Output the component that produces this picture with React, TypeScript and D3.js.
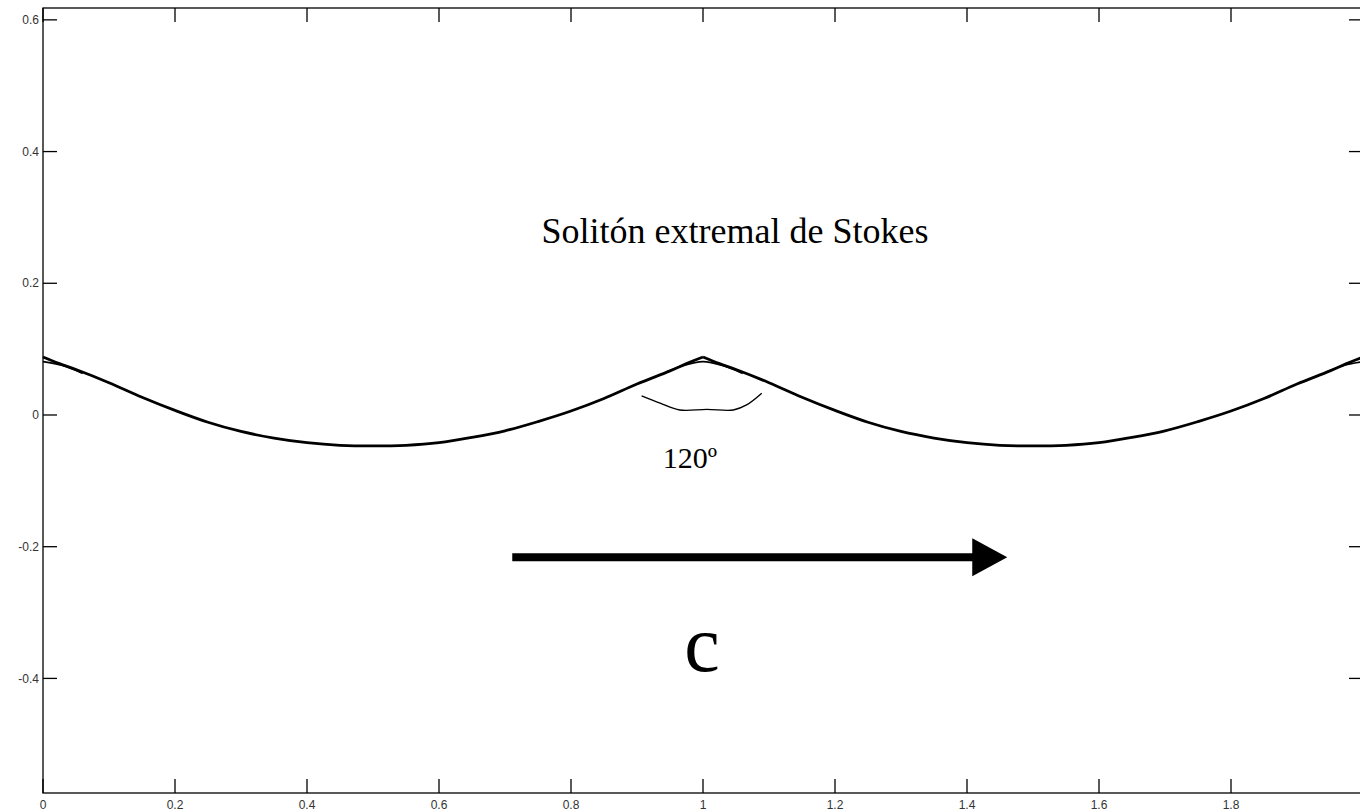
import React from "react";
import * as d3 from "d3";

const xTicks = [0, 0.2, 0.4, 0.6, 0.8, 1, 1.2, 1.4, 1.6, 1.8, 2];
const xTickLabels = ["0", "0.2", "0.4", "0.6", "0.8", "1", "1.2", "1.4", "1.6", "1.8", ""];
const yTicks = [-0.4, -0.2, 0, 0.2, 0.4, 0.6];
const yTickLabels = ["-0.4", "-0.2", "0", "0.2", "0.4", "0.6"];

// Stokes extreme wave profile
const waveX = [
  0, 0.025, 0.05, 0.1, 0.15, 0.2, 0.25, 0.3, 0.35, 0.4, 0.45, 0.5, 0.55, 0.6, 0.65, 0.7, 0.75, 0.8, 0.85, 0.9, 0.95, 0.975,
  1, 1.025, 1.05, 1.1, 1.15, 1.2, 1.25, 1.3, 1.35, 1.4, 1.45, 1.5, 1.55, 1.6, 1.65, 1.7, 1.75, 1.8, 1.85, 1.9, 1.95, 1.975, 2,
];
const waveY = [
  0.088, 0.078, 0.069, 0.049, 0.027, 0.007, -0.011, -0.025, -0.035, -0.042, -0.046, -0.047, -0.046, -0.042, -0.034, -0.024,
  -0.01, 0.006, 0.025, 0.047, 0.067, 0.078,
  0.088, 0.078, 0.069, 0.049, 0.027, 0.007, -0.011, -0.025, -0.035, -0.042, -0.046, -0.047, -0.046, -0.042, -0.034, -0.024,
  -0.01, 0.006, 0.025, 0.047, 0.067, 0.078, 0.088,
];
// second (rounded) profile near the crests
const crestX = [[0, 0.03, 0.06], [0.94, 0.97, 1, 1.03, 1.06], [1.94, 1.97, 2]];
const crestY = [[0.081, 0.075, 0.063], [0.063, 0.075, 0.081, 0.075, 0.063], [0.063, 0.075, 0.081]];

// hand-drawn angle mark under the central crest
const angleX = [0.907, 0.935, 0.965, 1.006, 1.046, 1.066, 1.089];
const angleY = [0.029, 0.018, 0.0076, 0.0086, 0.0076, 0.0152, 0.033];

const W = 1360;
const H = 811;

export default function App() {
  const x = d3.scaleLinear().domain([0, 2]).range([43, 1363]);
  const y = d3.scaleLinear().domain([-0.574, 0.618]).range([793, 8]);

  const line = d3
    .line<[number, number]>()
    .x((d) => x(d[0]))
    .y((d) => y(d[1]))
    .curve(d3.curveCatmullRom.alpha(0.5));

  const pts: [number, number][] = waveX.map((v, i) => [v, waveY[i]]);
  const seg1 = pts.filter((p) => p[0] <= 1);
  const seg2 = pts.filter((p) => p[0] >= 1);
  const crestPaths = crestX.map((xs, k) => xs.map((v, i) => [v, crestY[k][i]] as [number, number]));
  const anglePts: [number, number][] = angleX.map((v, i) => [v, angleY[i]]);

  const left = x(0);
  const right = x(2);
  const top = y(0.618);
  const bottom = y(-0.574);
  const tl = 14;

  const arrowX0 = x(0.711);
  const arrowX1 = x(1.408);
  const arrowTip = x(1.461);
  const arrowY = y(-0.216);

  return (
    <svg
      width={W}
      height={H}
      style={{ position: "fixed", left: 0, top: 0, background: "#fff" }}
      viewBox={`0 0 ${W} ${H}`}
    >
      <rect x={0} y={0} width={W} height={H} fill="#fff" />
      {/* axes box */}
      <rect x={left} y={top} width={right - left} height={bottom - top} fill="none" stroke="#000" strokeWidth={1.3} />
      {xTicks.map((t, i) => (
        <g key={"xt" + i}>
          <line x1={x(t)} x2={x(t)} y1={bottom} y2={bottom - tl} stroke="#000" strokeWidth={1.3} />
          <line x1={x(t)} x2={x(t)} y1={top} y2={top + tl} stroke="#000" strokeWidth={1.3} />
          {xTickLabels[i] && (
            <text
              x={x(t)}
              y={bottom + 16}
              textAnchor="middle"
              fontFamily="Liberation Sans, Arial, sans-serif"
              fontSize={12}
              fill="#333"
            >
              {xTickLabels[i]}
            </text>
          )}
        </g>
      ))}
      {yTicks.map((t, i) => (
        <g key={"yt" + i}>
          <line x1={left} x2={left + tl} y1={y(t)} y2={y(t)} stroke="#000" strokeWidth={1.3} />
          <line x1={right} x2={right - tl} y1={y(t)} y2={y(t)} stroke="#000" strokeWidth={1.3} />
          <text
            x={left - 4}
            y={y(t)}
            dy="0.35em"
            textAnchor="end"
            fontFamily="Liberation Sans, Arial, sans-serif"
            fontSize={12}
            fill="#333"
          >
            {yTickLabels[i]}
          </text>
        </g>
      ))}

      {/* wave */}
      <path d={line(seg1) || ""} fill="none" stroke="#000" strokeWidth={2.8} />
      <path d={line(seg2) || ""} fill="none" stroke="#000" strokeWidth={2.8} />
      {crestPaths.map((p, i) => (
        <path key={"c" + i} d={line(p) || ""} fill="none" stroke="#000" strokeWidth={1.6} />
      ))}

      {/* angle mark */}
      <path d={line(anglePts) || ""} fill="none" stroke="#000" strokeWidth={1.4} />

      {/* annotations */}
      <text x={735} y={243} textAnchor="middle" fontFamily="Liberation Serif, Times New Roman, serif" fontSize={36}>
        Solitón extremal de Stokes
      </text>
      <text x={690} y={468} textAnchor="middle" fontFamily="Liberation Serif, Times New Roman, serif" fontSize={30}>
        120º
      </text>
      <line x1={arrowX0} x2={arrowX1 + 1} y1={arrowY} y2={arrowY} stroke="#000" strokeWidth={8} />
      <polygon
        points={`${arrowX1},${arrowY - 19} ${arrowTip},${arrowY} ${arrowX1},${arrowY + 19}`}
        fill="#000"
      />
      <text x={702} y={671} textAnchor="middle" fontFamily="Liberation Serif, Times New Roman, serif" fontSize={80}>
        c
      </text>
    </svg>
  );
}
